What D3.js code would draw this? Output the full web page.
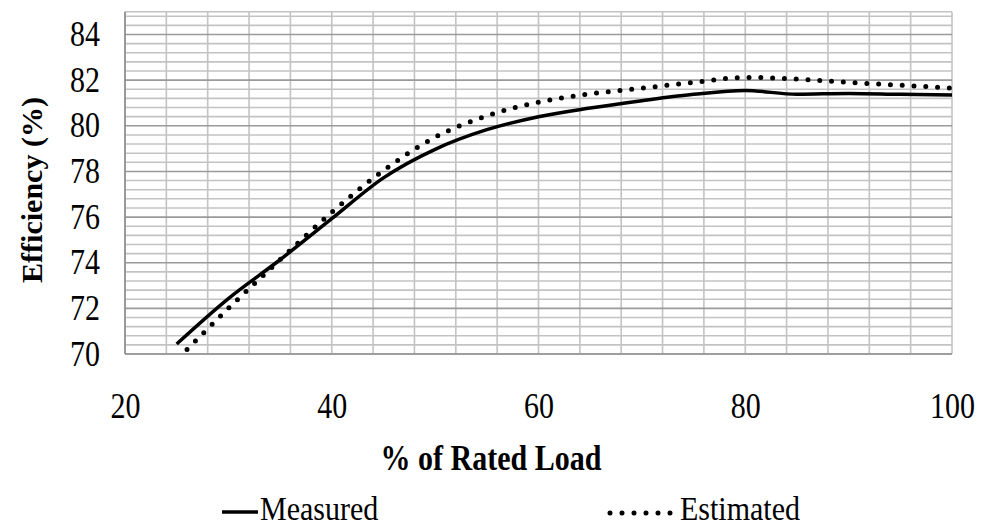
<!DOCTYPE html>
<html>
<head>
<meta charset="utf-8">
<script src="https://cdn.jsdelivr.net/npm/d3@7"></script>
<style>
  html, body { margin: 0; padding: 0; background: #fff; }
  svg { display: block; }
  text { font-family: "Liberation Serif", "Times New Roman", serif; fill: #000; }
</style>
</head>
<body>
<svg id="chart" width="982" height="527"></svg>
<script>
// Efficiency versus load, measured and estimated
const measuredLoad = [25, 30, 35, 40, 45, 50, 55, 60, 65, 70, 75, 80, 85, 90, 95, 100];
const measuredEff  = [70.44, 72.43, 74.13, 75.93, 77.72, 78.97, 79.83, 80.40, 80.78, 81.10, 81.38, 81.55, 81.38, 81.42, 81.38, 81.35];
const estimatedLoad = [26, 30, 35, 40, 45, 50, 55, 60, 65, 70, 75, 80, 85, 90, 95, 100];
const estimatedEff  = [70.20, 72.00, 74.13, 76.21, 78.04, 79.50, 80.44, 81.03, 81.40, 81.65, 81.90, 82.12, 82.05, 81.90, 81.78, 81.65];
const xTicks = [20, 40, 60, 80, 100];
const yTicks = [70, 72, 74, 76, 78, 80, 82, 84];
const seriesNames = ["Measured", "Estimated"];

const svg = d3.select("#chart");
const plotLeft = 125, plotRight = 952, plotTop = 11.7, plotBottom = 354;
const textStretch = 1.2;

const x = d3.scaleLinear().domain([20, 100]).range([plotLeft, plotRight]);
const y = d3.scaleLinear().domain([70, 85]).range([plotBottom, plotTop]);

// grid: vertical every 4 %, horizontal every 0.4 with heavier lines every 2
const grid = svg.append("g");
const vLines = d3.range(20, 100.001, 4);
grid.selectAll("line.v").data(vLines).join("line")
  .attr("x1", d => x(d)).attr("x2", d => x(d))
  .attr("y1", plotTop).attr("y2", plotBottom)
  .attr("stroke", "#c3c3c3").attr("stroke-width", 1.6);
const hMinor = d3.range(0, 38).map(i => 70 + i * 0.4).filter(v => Math.abs(v / 2 - Math.round(v / 2)) > 1e-6);
grid.selectAll("line.hm").data(hMinor).join("line")
  .attr("x1", plotLeft).attr("x2", plotRight)
  .attr("y1", d => y(d)).attr("y2", d => y(d))
  .attr("stroke", "#c3c3c3").attr("stroke-width", 1.6);
grid.selectAll("line.hM").data(yTicks.concat([85])).join("line")
  .attr("x1", plotLeft).attr("x2", plotRight)
  .attr("y1", d => y(d)).attr("y2", d => y(d))
  .attr("stroke", d => d === 70 || d === 85 ? "#c3c3c3" : "#9a9a9a").attr("stroke-width", 1.6);
// axis lines
svg.append("line").attr("x1", plotLeft).attr("x2", plotLeft).attr("y1", plotTop).attr("y2", plotBottom)
  .attr("stroke", "#8c8c8c").attr("stroke-width", 1.6);
svg.append("line").attr("x1", plotLeft).attr("x2", plotRight).attr("y1", plotBottom).attr("y2", plotBottom)
  .attr("stroke", "#8c8c8c").attr("stroke-width", 1.6);

// axes
const xAxis = svg.append("g").attr("transform", `translate(0,${plotBottom})`)
  .call(d3.axisBottom(x).tickValues(xTicks).tickSize(0).tickFormat(d3.format("d")));
xAxis.select(".domain").remove();
xAxis.selectAll("text")
  .attr("y", null).attr("dy", null)
  .attr("transform", `translate(0,64) scale(1,${textStretch})`)
  .style("font-family", "'Liberation Serif', serif").style("font-size", "30px").attr("fill", "#000");

const yAxis = svg.append("g").attr("transform", `translate(${plotLeft},0)`)
  .call(d3.axisLeft(y).tickValues(yTicks).tickSize(0).tickFormat(d3.format("d")));
yAxis.select(".domain").remove();
yAxis.selectAll("text")
  .attr("x", null).attr("dy", null)
  .attr("transform", `translate(-25,11) scale(1,${textStretch})`)
  .style("font-family", "'Liberation Serif', serif").style("font-size", "30px").attr("fill", "#000");

// series lines
const line = d3.line().x(d => x(d[0])).y(d => y(d[1])).curve(d3.curveMonotoneX);
const measured = measuredLoad.map((v, i) => [v, measuredEff[i]]);
const estimated = estimatedLoad.map((v, i) => [v, estimatedEff[i]]);

svg.append("path").datum(measured).attr("d", line)
  .attr("fill", "none").attr("stroke", "#000").attr("stroke-width", 3.5);
svg.append("path").datum(estimated).attr("d", line)
  .attr("fill", "none").attr("stroke", "#000").attr("stroke-width", 5)
  .attr("stroke-linecap", "round").attr("stroke-dasharray", "0 11.8");

// axis titles
svg.append("text")
  .attr("transform", `translate(491,470) scale(1,${textStretch})`)
  .attr("text-anchor", "middle").attr("font-weight", "bold").attr("font-size", 30)
  .text("% of Rated Load");
svg.append("text")
  .attr("transform", `translate(42,190) rotate(-90)`)
  .attr("text-anchor", "middle").attr("font-weight", "bold").attr("font-size", 30)
  .text("Efficiency (%)");

// legend
const lg = svg.append("g");
lg.append("line").attr("x1", 222).attr("x2", 258).attr("y1", 512).attr("y2", 512)
  .attr("stroke", "#000").attr("stroke-width", 3.5);
lg.append("text").attr("transform", `translate(260,520) scale(1,1.12)`)
  .attr("font-size", 30).text(seriesNames[0]);
lg.append("line").attr("x1", 610).attr("x2", 672).attr("y1", 513).attr("y2", 513)
  .attr("stroke", "#000").attr("stroke-width", 5)
  .attr("stroke-linecap", "round").attr("stroke-dasharray", "0 12");
lg.append("text").attr("transform", `translate(680,520) scale(1,1.12)`)
  .attr("font-size", 30).text(seriesNames[1]);
</script>
</body>
</html>
